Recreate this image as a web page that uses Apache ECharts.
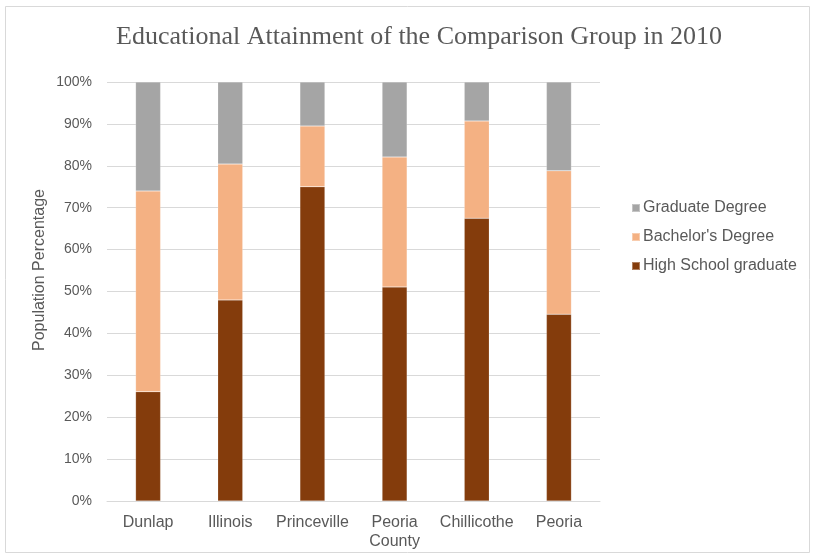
<!DOCTYPE html>
<html>
<head>
<meta charset="utf-8">
<script src="https://cdn.jsdelivr.net/npm/echarts@6/dist/echarts.min.js"></script>
<style>
  html, body { margin: 0; padding: 0; background: #fff; }
  #chart { width: 814px; height: 556px; }
</style>
</head>
<body>
<div id="chart"></div>
<script>
// Places compared
const categories = ['Dunlap', 'Illinois', 'Princeville', 'Peoria\nCounty', 'Chillicothe', 'Peoria'];

// Share of population (%) by highest level reached
const highSchool = [26.1, 48.0, 75.0, 51.1, 67.5, 44.6];
const bachelors  = [47.9, 32.4, 14.5, 31.0, 23.2, 34.2];
const graduate   = [26.0, 19.6, 10.5, 17.9,  9.3, 21.2];

const yTicks = [0, 10, 20, 30, 40, 50, 60, 70, 80, 90, 100];

const textGray = '#595959';
const gridGray = '#D9D9D9';
const sansFont = '"Liberation Sans", Arial, sans-serif';

const chart = echarts.init(document.getElementById('chart'), null, { renderer: 'canvas' });

function barSeries(name, data, color) {
  return {
    name: name,
    type: 'bar',
    stack: 'total',
    data: data,
    barWidth: 25,
    itemStyle: { color: color, borderColor: 'rgba(255,255,255,0.35)', borderWidth: 0.5 },
    emphasis: { disabled: true }
  };
}

chart.setOption({
  animation: false,
  backgroundColor: '#fff',
  title: {
    text: 'Educational Attainment of the Comparison Group in 2010',
    left: 414,
    textAlign: 'center',
    top: 19,
    textStyle: {
      fontFamily: '"Liberation Serif", "Times New Roman", serif',
      fontSize: 26,
      fontWeight: 'normal',
      color: textGray
    }
  },
  grid: { left: 107, right: 214, top: 82, bottom: 55, containLabel: false },
  legend: {
    orient: 'vertical',
    left: 626,
    top: 195,
    itemWidth: 8,
    itemHeight: 8,
    itemGap: 13,
    icon: 'rect',
    data: ['Graduate Degree', "Bachelor's Degree", 'High School graduate'],
    textStyle: { fontFamily: sansFont, fontSize: 16, color: textGray, padding: [0, 0, 0, -2] }
  },
  xAxis: {
    type: 'category',
    data: categories,
    axisLine: { lineStyle: { color: gridGray, width: 1 } },
    axisTick: { show: false },
    axisLabel: {
      color: textGray,
      fontFamily: sansFont,
      fontSize: 16,
      margin: 12,
      lineHeight: 19,
      interval: 0
    }
  },
  yAxis: {
    type: 'value',
    min: yTicks[0],
    max: yTicks[yTicks.length - 1],
    interval: 10,
    axisLine: { show: false },
    axisTick: { show: false },
    splitLine: { lineStyle: { color: gridGray, width: 1 } },
    axisLabel: {
      color: textGray,
      fontFamily: sansFont,
      fontSize: 14,
      margin: 15,
      formatter: v => v + '%'
    }
  },
  graphic: [
    {
      type: 'rect',
      shape: { x: 5.5, y: 6.5, width: 804, height: 546 },
      style: { fill: 'none', stroke: gridGray, lineWidth: 1 },
      silent: true,
      z: -1
    },
    {
      type: 'text',
      x: 40,
      y: 270,
      rotation: Math.PI / 2,
      style: {
        text: 'Population Percentage',
        fill: textGray,
        font: '16px ' + sansFont,
        align: 'center',
        verticalAlign: 'middle'
      }
    }
  ],
  series: [
    barSeries('High School graduate', highSchool, '#843C0C'),
    barSeries("Bachelor's Degree", bachelors, '#F4B183'),
    barSeries('Graduate Degree', graduate, '#A5A5A5')
  ]
});
</script>
</body>
</html>
